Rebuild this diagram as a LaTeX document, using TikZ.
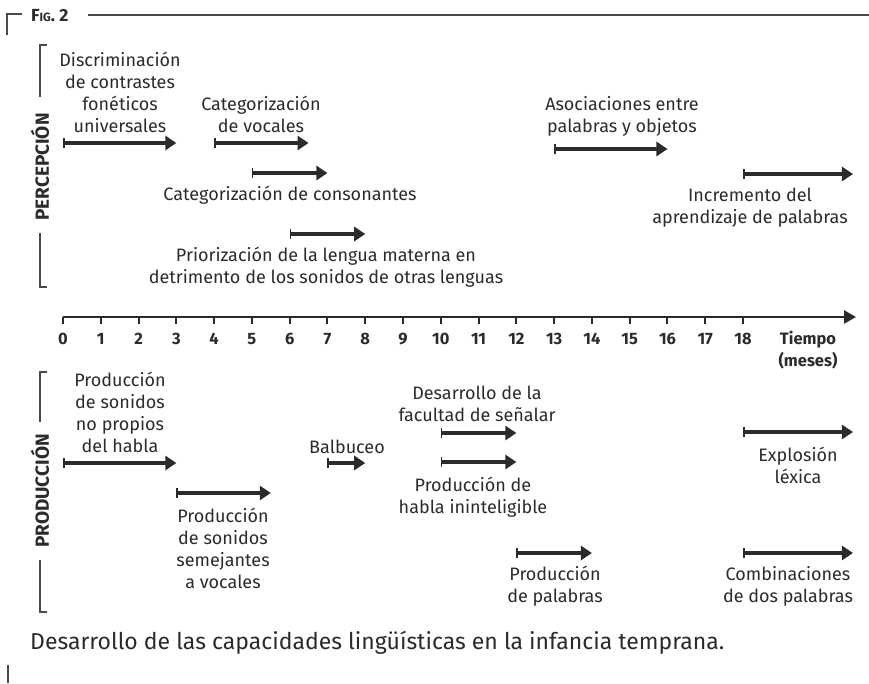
\documentclass[tikz,border=0pt]{standalone}
\usepackage{fontspec}
\setmainfont{Fira Sans}
\usetikzlibrary{arrows.meta}
\definecolor{figink}{HTML}{2B2B2B}
\definecolor{figrule}{HTML}{4A4A4A}
\tikzset{
  figtext/.style={align=center, font=\fontsize{18}{22}\selectfont, text=figink, inner sep=0pt},
  fignum/.style={align=center, font=\fontsize{16.5}{22}\selectfont\bfseries, text=figink, inner sep=0pt},
  figside/.style={rotate=90, font=\fontsize{19}{20}\selectfont\bfseries, text=figink, inner sep=0pt},
  spanarrow/.style={figink, line width=4.5pt, {Bar[width=10pt,line width=1.5pt]}-{Triangle[length=11pt,width=14pt]}},
  figbracket/.style={figrule, line width=1.5pt},
}
% month -> x position
\newcommand{\mo}[1]{63+37.78*#1}
\newcommand{\spanline}[4]{%
  \coordinate (#1-s) at ({\mo{#2}},#4);
  \coordinate (#1-e) at ({\mo{#3}},#4);
  \draw[spanarrow] (#1-s) -- (#1-e);}

\begin{document}
\begin{tikzpicture}[x=1pt,y=-1pt]
  \useasboundingbox (0,0) rectangle (869,683);
  % frame
  \draw[figrule, line width=2.5pt] (7,35) -- (7,14) -- (22,14);
  \node[anchor=west, inner sep=0pt, font=\fontsize{17.5}{20}\selectfont\bfseries, text=figink] (fig) at (31,16) {F{\fontsize{12}{14}\selectfont IG}. 2};
  \draw[figrule, line width=2.5pt] (88,15) -- (869,15);
  \draw[figrule, line width=2.5pt] (8,665) -- (8,683);
  % side brackets
  \node[figside] (perc) at (40,167) {PERCEPCIÓN};
  \draw[figbracket] (47,45) -- (40,45) -- (40,97);
  \draw[figbracket] (40,233) -- (40,287) -- (47,287);
  \node[figside] (prod) at (40,491) {PRODUCCIÓN};
  \draw[figbracket] (47,372) -- (40,372) -- (40,422);
  \draw[figbracket] (40,560) -- (40,612) -- (47,612);
  % time axis
  \coordinate (axis-s) at (63,317);
  \coordinate (axis-e) at (856,317);
  \draw[figink, line width=2.8pt, -{Triangle[length=12pt,width=13pt]}] (axis-s) -- (axis-e);
  \foreach \m in {0,...,18} {
    \coordinate (t\m) at ({\mo{\m}},317);
    \draw[figink, line width=2pt] (t\m) -- ++(0,7);
    \node[fignum] (n\m) at ({\mo{\m}},339) {\m};
  }
  \node[fignum] (tiempo) at (808,350) {Tiempo\\(meses)};
  % percepcion
  \spanline{disc}{0}{3}{143}
  \node[figtext] (disc) at (120,92) {Discriminación\\de contrastes\\fonéticos\\universales};
  \spanline{catvoc}{4}{6.5}{143}
  \node[figtext] (catvoc) at (261,114) {Categorización\\de vocales};
  \spanline{catcons}{5}{7}{173}
  \node[figtext] (catcons) at (290,195) {Categorización de consonantes};
  \spanline{prior}{6}{8}{234}
  \node[figtext] (prior) at (326,267) {Priorización de la lengua materna en\\detrimento de los sonidos de otras lenguas};
  \spanline{asoc}{13}{16}{149}
  \node[figtext] (asoc) at (622,116) {Asociaciones entre\\palabras y objetos};
  \spanline{incr}{18}{20.91}{174}
  \node[figtext] (incr) at (750,207.5) {Incremento del\\aprendizaje de palabras};
  % produccion
  \spanline{nohabla}{0}{3}{463}
  \node[figtext] (nohabla) at (120,412) {Producción\\de sonidos\\no propios\\del habla};
  \spanline{semej}{3}{5.5}{493}
  \node[figtext] (semej) at (223,548.5) {Producción\\de sonidos\\semejantes\\a vocales};
  \spanline{balb}{7}{8}{463}
  \node[figtext] (balb) at (347,447) {Balbuceo};
  \spanline{senal}{10}{12}{433}
  \node[figtext] (senal) at (477,404) {Desarrollo de la\\facultad de señalar};
  \spanline{inint}{10}{12}{462}
  \node[figtext] (inint) at (473,497.5) {Producción de\\habla ininteligible};
  \spanline{palab}{12}{14}{553}
  \node[figtext] (palab) at (555,586.5) {Producción\\de palabras};
  \spanline{explo}{18}{20.91}{432}
  \node[figtext] (explo) at (798,465.5) {Explosión\\léxica};
  \spanline{comb}{18}{20.91}{553}
  \node[figtext] (comb) at (788,586.5) {Combinaciones\\de dos palabras};
  % caption
  \node[anchor=west, inner sep=0pt, font=\fontsize{23}{26}\selectfont, text=figink] (caption) at (30,643) {Desarrollo de las capacidades lingüísticas en la infancia temprana.};
\end{tikzpicture}
\end{document}
